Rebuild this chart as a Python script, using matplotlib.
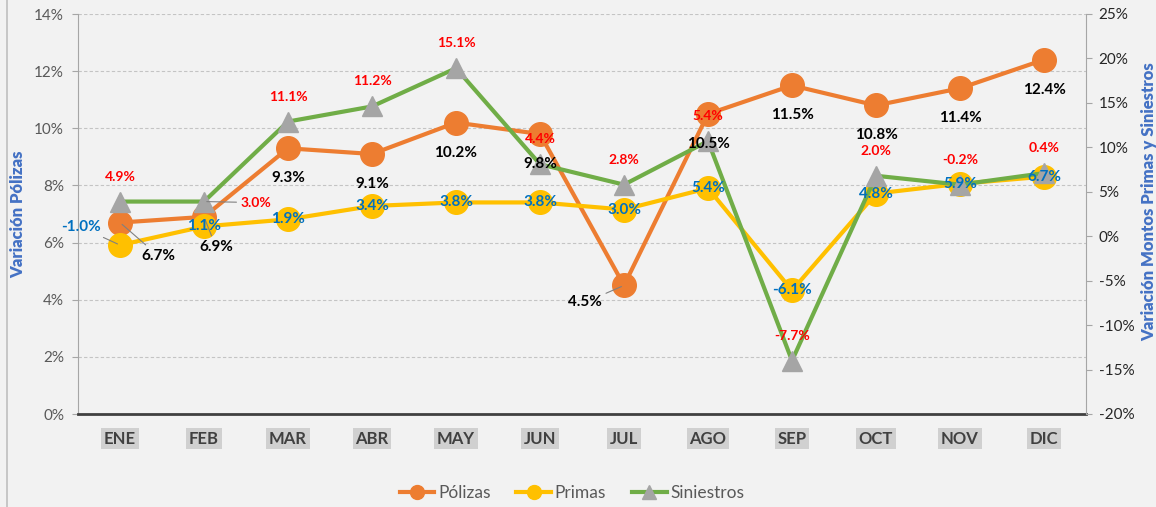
import matplotlib
matplotlib.use("Agg")
import matplotlib.pyplot as plt
from matplotlib.lines import Line2D
from matplotlib.ticker import FuncFormatter

plt.rcParams['font.family'] = ['Lato', 'DejaVu Sans']

months = ["ENE", "FEB", "MAR", "ABR", "MAY", "JUN", "JUL", "AGO", "SEP", "OCT", "NOV", "DIC"]
polizas = [6.7, 6.9, 9.3, 9.1, 10.2, 9.8, 4.5, 10.5, 11.5, 10.8, 11.4, 12.4]
primas = [-1.0, 1.1, 1.9, 3.4, 3.8, 3.8, 3.0, 5.4, -6.1, 4.8, 5.9, 6.7]
siniestros = [3.9, 3.9, 12.9, 14.6, 18.9, 8.1, 5.8, 10.7, -14.0, 6.8, 5.8, 7.1]
siniestros_labels = [4.9, 3.0, 11.1, 11.2, 15.1, 4.4, 2.8, 5.4, -7.7, 2.0, -0.2, 0.4]

C_POL = '#ED7D31'
C_PRI = '#FFC000'
C_SIN = '#70AD47'
C_TRI = '#A5A5A5'
BG = '#F2F2F2'

W, H = 1156, 507
fig = plt.figure(figsize=(W / 100, H / 100), dpi=100, facecolor=BG)
ax = fig.add_axes([78 / W, 1 - 414 / H, (1086 - 78) / W, (414 - 14) / H])
ax.set_facecolor(BG)
x = list(range(len(months)))

ax.plot(x, polizas, color=C_POL, lw=3, marker='o', ms=17, mfc=C_POL, mec=C_POL,
        label='Pólizas', zorder=3, solid_capstyle='round')
ax.set_xlim(-0.5, 11.5)
ax.set_ylim(0, 14)
ax.set_yticks(range(0, 15, 2))
ax.yaxis.set_major_formatter(FuncFormatter(lambda v, p: f"{v:.0f}%"))
ax.yaxis.grid(True, linestyle=(0, (3, 2)), color='#C4C4C4', lw=0.8)
ax.set_axisbelow(True)
ax.set_xticks(x)
ax.set_xticklabels(months, fontweight='bold', fontsize=12, color='#404040')
for t in ax.get_xticklabels():
    t.set_bbox(dict(facecolor='#D0D0D0', edgecolor='none', pad=2))
ax.tick_params(axis='x', length=0, pad=12)
ax.tick_params(axis='y', length=4, pad=6, color='#A6A6A6', labelcolor='#595959', labelsize=11)
for s in ['top', 'right']:
    ax.spines[s].set_visible(False)
ax.spines['left'].set_color('#A6A6A6')
ax.spines['bottom'].set_color('#404040')
ax.spines['bottom'].set_linewidth(2)
ax.set_ylabel('Variación Pólizas', color='#4472C4', fontweight='heavy', fontsize=12)
ax.yaxis.set_label_coords(-0.051, 0.5)

ax2 = ax.twinx()
ax2.plot(x, primas, color=C_PRI, lw=3, marker='o', ms=17, mfc=C_PRI, mec=C_PRI,
         label='Primas', zorder=3)
ax2.plot(x, siniestros, color=C_SIN, lw=3, marker='^', ms=15, mfc=C_TRI, mec=C_TRI,
         label='Siniestros', zorder=4)
ax2.set_ylim(-20, 25)
ax2.set_yticks(range(-20, 26, 5))
ax2.yaxis.set_major_formatter(FuncFormatter(lambda v, p: f"{v:.0f}%"))
ax2.tick_params(axis='y', length=4, pad=5, color='#A6A6A6', labelcolor='#262626', labelsize=11)
for s in ['top', 'left', 'bottom']:
    ax2.spines[s].set_visible(False)
ax2.spines['right'].set_color('#A6A6A6')
ax2.set_ylabel('Variación Montos Primas y Siniestros', color='#4472C4',
               fontweight='heavy', fontsize=12, rotation=90)
ax2.yaxis.set_label_coords(1.055, 0.53)

PX = 0.72  # points per pixel
leader = dict(arrowstyle='-', color='#808080', lw=0.8, shrinkA=1, shrinkB=2)

# Pólizas labels
pol_off = {0: (38, 33), 1: (12, 30), 6: (-39, 17)}
for i, v in enumerate(polizas):
    dx, dy = pol_off.get(i, (0, 30))
    ap = leader if i in pol_off else None
    ax2.annotate(f"{v:.1f}%", xy=(i, v), xycoords=ax.transData,
                 xytext=(dx * PX, -dy * PX), textcoords='offset points',
                 ha='center', va='center', fontsize=11, fontweight='bold',
                 color='black', arrowprops=ap, zorder=10)

# Primas labels
pri_off = {0: (-39, -18)}
for i, v in enumerate(primas):
    dx, dy = pri_off.get(i, (0, 0))
    ap = leader if i in pri_off else None
    ax2.annotate(f"{v:.1f}%", xy=(i, v), xytext=(dx * PX, -dy * PX),
                 textcoords='offset points', ha='center', va='center',
                 fontsize=11, fontweight='bold', color='#0070C0',
                 arrowprops=ap, zorder=11)

# Siniestros labels
sin_off = {1: (52, 1)}
for i, (v, lab) in enumerate(zip(siniestros, siniestros_labels)):
    dx, dy = sin_off.get(i, (0, -25))
    ap = leader if i in sin_off else None
    ax2.annotate(f"{lab:.1f}%", xy=(i, v), xytext=(dx * PX, -dy * PX),
                 textcoords='offset points', ha='center', va='center',
                 fontsize=10, fontweight='bold', color='#FF0000',
                 arrowprops=ap, zorder=12)

handles = [
    Line2D([], [], color=C_POL, lw=3, marker='o', ms=10, mfc=C_POL, mec=C_POL),
    Line2D([], [], color=C_PRI, lw=3, marker='o', ms=10, mfc=C_PRI, mec=C_PRI),
    Line2D([], [], color=C_SIN, lw=3, marker='^', ms=10, mfc=C_TRI, mec=C_TRI),
]
leg = fig.legend(handles, ['Pólizas', 'Primas', 'Siniestros'], loc='center',
                 bbox_to_anchor=(572 / W, 1 - 493 / H), ncol=3, frameon=False,
                 fontsize=12.5, handlelength=2.0, handletextpad=0.2,
                 columnspacing=1.5)
for t in leg.get_texts():
    t.set_color('#595959')

fig.add_artist(Line2D([7 / W, 7 / W], [0, 1], transform=fig.transFigure,
                      color='#BFBFBF', lw=1.2))

fig.savefig('out.png', dpi=100, facecolor=BG)
